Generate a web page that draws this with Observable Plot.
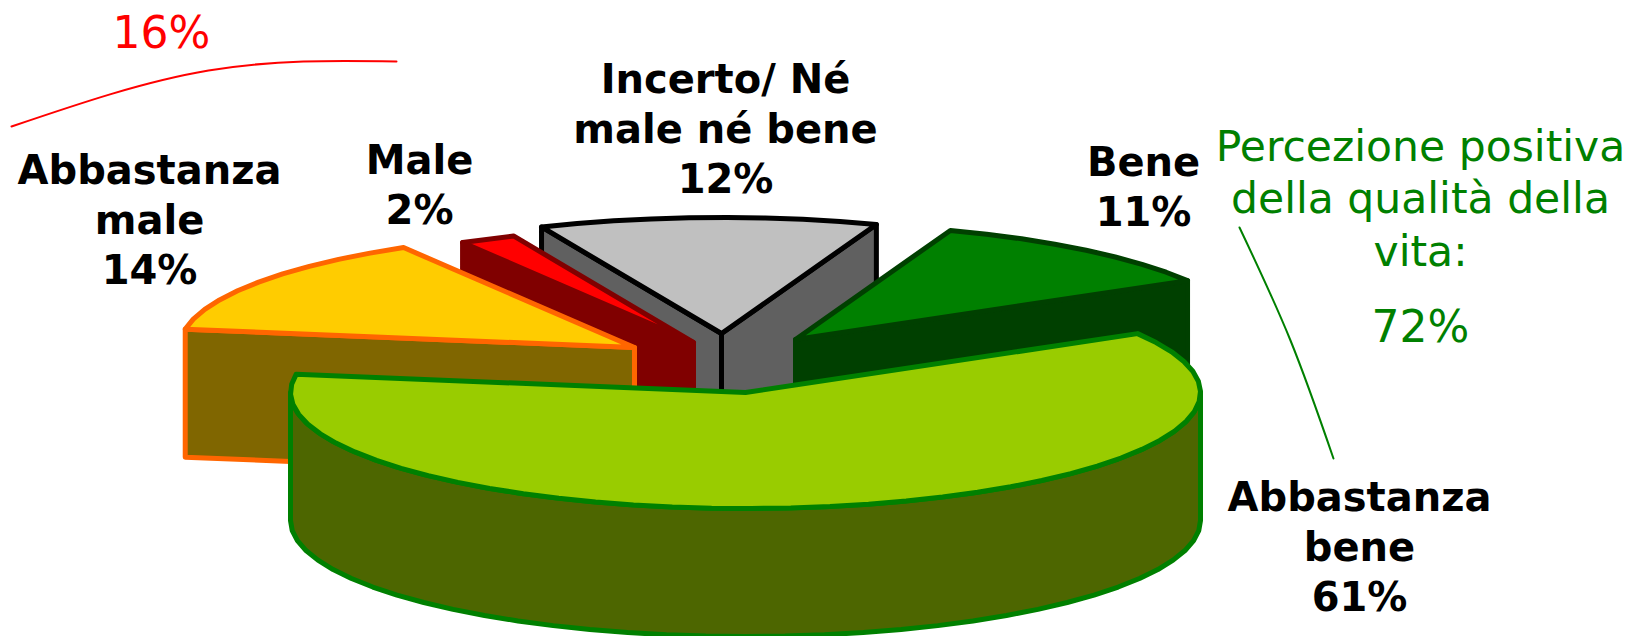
<!DOCTYPE html>
<html>
<head>
<meta charset="utf-8">
<style>html,body{margin:0;padding:0;background:#fff;overflow:hidden}svg{display:block}</style>
<script src="https://cdn.jsdelivr.net/npm/d3@7"></script>
<script src="https://cdn.jsdelivr.net/npm/@observablehq/plot@0.6"></script>
</head>
<body>
<script>
// Data, in pie order (clockwise from the start angle)
const categories = ["Abbastanza bene", "Abbastanza male", "Male", "Incerto/ Né male né bene", "Bene"];
const shares = [61, 14, 2, 12, 11];
const labelLines = [["Abbastanza", "bene"], ["Abbastanza", "male"], ["Male"], ["Incerto/ Né", "male né bene"], ["Bene"]];
const annotationNegative = "16%";
const annotationPositive = "Percezione positiva\ndella qualità della\nvita:";
const annotationPositiveValue = "72%";

// Styles
const topFills = ["#99cc00", "#ffcc00", "#ff0000", "#c0c0c0", "#008000"];
const sideFills = ["#4d6600", "#806600", "#800000", "#606060", "#004000"];
const strokes = ["#008000", "#ff6600", "#800000", "#000000", "#004000"];

// Layout of the pseudo-3D pie
const startAngle = -30.5, rx = 455, ry = 116, depth = 128, sampleStep = 5;
const apexX = [745, 634, 693, 721, 795];
const apexY = [392, 347, 342, 333, 339];
const labelX = [1359, 149, 419, 725, 1143];
const labelY = [544, 217, 182, 126, 184];
const paintOrder = [3, 2, 1, 4, 0];
const leaderNegX = [11, 208, 396], leaderNegY = [126, 70, 61];
const leaderPosX = [1239, 1290, 1333], leaderPosY = [227, 340, 458];

const rad = d => d * Math.PI / 180;
let running = startAngle;
const slices = shares.map((v, i) => {
  const a0 = running, a1 = running + v * 3.6;
  running = a1;
  return {i, v, a0, a1, cx: apexX[i], cy: apexY[i]};
});
const rimPoint = (s, a, dy = 0) => ({x: s.cx + rx * Math.cos(rad(a)), y: s.cy + dy + ry * Math.sin(rad(a))});
const apex = (s, dy = 0) => ({x: s.cx, y: s.cy + dy});
const arc = (s, a0, a1, dy = 0) => {
  const n = Math.max(1, Math.round((a1 - a0) / sampleStep));
  return d3.range(n + 1).map(k => rimPoint(s, a0 + (a1 - a0) * k / n, dy));
};
const poly = (pts, fill, stroke) => Plot.line(pts, {
  x: "x", y: "y", curve: "linear-closed", fill, stroke, strokeWidth: 5,
  strokeLinejoin: "round", strokeLinecap: "round"
});

const sliceMarks = s => {
  const fill = sideFills[s.i], stroke = strokes[s.i], out = [];
  // Cut faces, drawn when they turn towards the viewer
  if (Math.cos(rad(s.a0)) < 0)
    out.push(poly([rimPoint(s, s.a0), apex(s), apex(s, depth), rimPoint(s, s.a0, depth)], fill, stroke));
  if (Math.cos(rad(s.a1)) > 0)
    out.push(poly([rimPoint(s, s.a1), apex(s), apex(s, depth), rimPoint(s, s.a1, depth)], fill, stroke));
  // Outer rim, for the part of the slice on the near side
  const lo = Math.max(s.a0, 0), hi = Math.min(s.a1, 180);
  if (hi > lo)
    out.push(poly([...arc(s, lo, hi), ...arc(s, lo, hi, depth).reverse()], fill, stroke));
  // Top face
  out.push(poly([apex(s), ...arc(s, s.a0, s.a1)], topFills[s.i], stroke));
  return out;
};

const labels = slices.map(s => ({
  text: [...labelLines[s.i], shares[s.i] + "%"].join("\n"),
  x: labelX[s.i], y: labelY[s.i]
}));
const zip = (xs, ys) => xs.map((x, i) => ({x, y: ys[i]}));
const font = "'DejaVu Sans', Verdana, sans-serif";

const chart = Plot.plot({
  width: 1630, height: 636,
  margin: 0,
  x: {domain: [0, 1630], range: [0, 1630], axis: null},
  y: {domain: [0, 636], range: [0, 636], axis: null},
  marks: [
    ...paintOrder.flatMap(i => sliceMarks(slices[i])),
    Plot.line(zip(leaderNegX, leaderNegY), {x: "x", y: "y", curve: "natural", stroke: "#ff0000", strokeWidth: 2}),
    Plot.line(zip(leaderPosX, leaderPosY), {x: "x", y: "y", curve: "natural", stroke: "#008000", strokeWidth: 2}),
    Plot.text(labels, {x: "x", y: "y", text: "text", fontFamily: font, fontWeight: "bold", fontSize: 40, lineHeight: 1.25, fill: "#000"}),
    Plot.text([annotationNegative], {x: () => 161, y: () => 33, text: d => d, fontFamily: font, fontSize: 44, fill: "#ff0000"}),
    Plot.text([annotationPositive], {x: () => 1420, y: () => 196, text: d => d, fontFamily: font, fontSize: 42.5, lineHeight: 1.24, fill: "#008000"}),
    Plot.text([annotationPositiveValue], {x: () => 1420, y: () => 327, text: d => d, fontFamily: font, fontSize: 44, fill: "#008000"})
  ]
});
document.body.appendChild(chart);
</script>
</body>
</html>
